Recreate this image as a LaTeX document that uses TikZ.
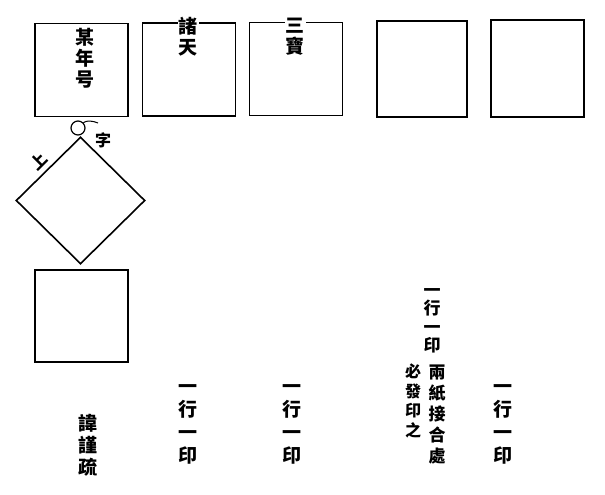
\documentclass[tikz,border=0pt]{standalone}
\usepackage{fontspec}
\newfontfamily\cjk{Noto Sans CJK TC}
\usetikzlibrary{shapes.geometric}
\tikzstyle{seal}=[
        draw,
        line width=1.8pt,
        minimum width=93pt,
        minimum height=93pt,
        inner sep=0pt
]
\tikzstyle{vtext}=[align=center,inner sep=1pt,font=\cjk\bfseries\fontsize{19}{21}\selectfont]
\tikzstyle{small}=[align=center,inner sep=1pt,font=\cjk\bfseries\fontsize{16}{18.5}\selectfont]
\tikzstyle{ring}=[circle,draw,line width=1.2pt,minimum size=14pt,inner sep=0pt]
\tikzstyle{lozenge}=[diamond,draw,line width=1.6pt,minimum width=129pt,minimum height=127pt,inner sep=0pt]

\begin{document}
\begin{tikzpicture}[x=1pt,y=-1pt]
\useasboundingbox (0,0) rectangle (605,495);
%boxes
\node[seal] (a) at (81.5,70) {};
\node[seal] (b) at (189,69.5) {};
\node[seal] (c) at (296,69) {};
\node[seal,minimum width=90pt,minimum height=96pt] (d) at (422,69) {};
\node[seal,minimum height=97pt] (e) at (537.5,68.5) {};
\node[ring] (o) at (78,128) {};
\node[lozenge] (f) at (80.5,200.5) {};
\node[seal,minimum height=92pt] (g) at (81.5,316) {};
%texts
\node[vtext] (ta) at (85,58) {某\\年\\号};
\node[vtext,fill=white] (tb) at (188,37) {諸\\天};
\node[vtext,fill=white] (tc) at (295,37) {三\\寶};
\node[small] (zi) at (103,140) {字};
\node[small,rotate=45] (up) at (39,161) {上};
\coordinate (hook) at (98,123);
\draw[line width=1pt] (o.north east) .. controls (87,120) and (93,121) .. (hook);
\node[vtext,font=\cjk\bfseries\fontsize{19}{22}\selectfont] (sa) at (88,445) {諱\\謹\\疏};
\node[vtext,font=\cjk\bfseries\fontsize{19}{23}\selectfont] (sb) at (188,424) {一\\行\\一\\印};
\node[vtext,font=\cjk\bfseries\fontsize{19}{23}\selectfont] (sc) at (292,424) {一\\行\\一\\印};
\node[small,font=\cjk\bfseries\fontsize{17}{18.5}\selectfont] (sd) at (432,321) {一\\行\\一\\印};
\node[small,font=\cjk\bfseries\fontsize{17}{21}\selectfont] (se) at (437,415) {兩\\紙\\接\\合\\處};
\node[small,font=\cjk\bfseries\fontsize{16}{19.5}\selectfont] (sf) at (413,401) {必\\發\\印\\之};
\node[vtext,font=\cjk\bfseries\fontsize{19}{23}\selectfont] (sg) at (503,424) {一\\行\\一\\印};
\end{tikzpicture}
\end{document}
